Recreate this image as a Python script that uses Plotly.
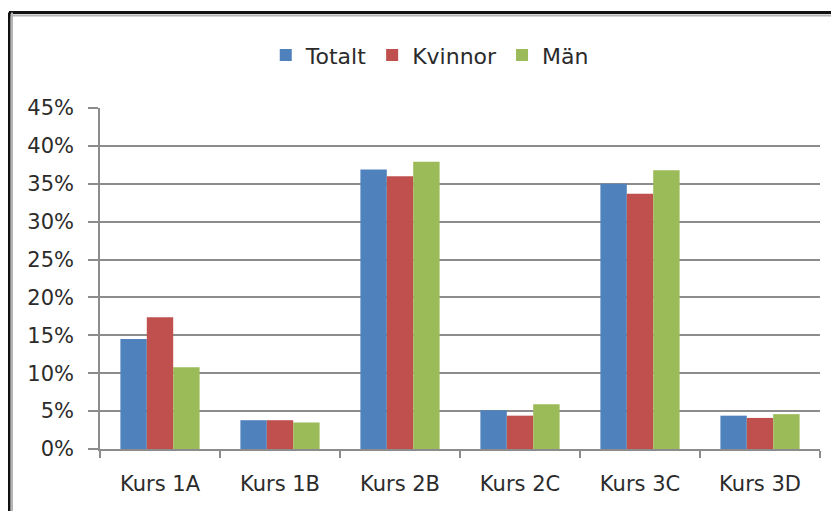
import plotly.graph_objects as go

kurser = ["Kurs 1A", "Kurs 1B", "Kurs 2B", "Kurs 2C", "Kurs 3C", "Kurs 3D"]
totalt = [0.145, 0.038, 0.369, 0.051, 0.350, 0.044]
kvinnor = [0.174, 0.038, 0.360, 0.044, 0.337, 0.041]
man = [0.108, 0.035, 0.379, 0.059, 0.368, 0.046]

serier = [("Totalt", totalt, "#4F81BD"),
          ("Kvinnor", kvinnor, "#C0504D"),
          ("Män", man, "#9BBB59")]

fig = go.Figure()
for namn, varden, farg in serier:
    fig.add_trace(go.Bar(x=kurser, y=varden, name=namn,
                         marker=dict(color=farg, line=dict(width=0))))

# sidan har 8 px marginal i webbläsaren, så allt flyttas 8 px upp/vänster
L, T, W, H = 92, 100, 720, 341
grid = "#8c8c8c"
fig.update_layout(
    width=839, height=511,
    margin=dict(l=L, r=839 - L - W, t=T, b=511 - T - H),
    paper_bgcolor="white", plot_bgcolor="white",
    font=dict(family="DejaVu Sans", size=21, color="#2b2b2b"),
    barmode="group", bargap=0.34, bargroupgap=0,
    showlegend=True,
    legend=dict(orientation="h", x=0.458, xanchor="center", y=1.155, yanchor="middle",
                font=dict(size=22), itemwidth=30, traceorder="normal"),
)
fig.update_xaxes(showgrid=False, showline=True, linecolor=grid, linewidth=1.5,
                 ticks="outside", ticklen=7, tickcolor=grid, tickwidth=1.5,
                 tickson="boundaries", ticklabelstandoff=15)
fig.update_yaxes(range=[0, 0.45], dtick=0.05, tickformat=".0%",
                 showgrid=True, gridcolor=grid, gridwidth=1.5,
                 showline=True, linecolor=grid, linewidth=1.5,
                 ticks="outside", ticklen=10, tickcolor=grid, tickwidth=1.5,
                 ticklabelstandoff=10, zeroline=False)

# ram runt diagrammet (övre och vänstra kanten)
x_left = (1 - L) / W
x_right = (845 - L) / W
y_top = 1 + (T - 4.5) / H
y_bot = -(511 - T - H + 10) / H
fig.add_shape(type="line", xref="paper", yref="paper", x0=x_left, x1=x_right,
              y0=y_top - 3 / H, y1=y_top - 3 / H, line=dict(color="#b4b4b4", width=2))
fig.add_shape(type="line", xref="paper", yref="paper", x0=x_left, x1=x_right,
              y0=y_top, y1=y_top, line=dict(color="#111111", width=3))
fig.add_shape(type="line", xref="paper", yref="paper", x0=x_left + 3 / W, x1=x_left + 3 / W,
              y0=y_bot, y1=y_top, line=dict(color="#b4b4b4", width=2))
fig.add_shape(type="line", xref="paper", yref="paper", x0=x_left, x1=x_left,
              y0=y_bot, y1=y_top, line=dict(color="#111111", width=3))

fig.write_html("out.html")
